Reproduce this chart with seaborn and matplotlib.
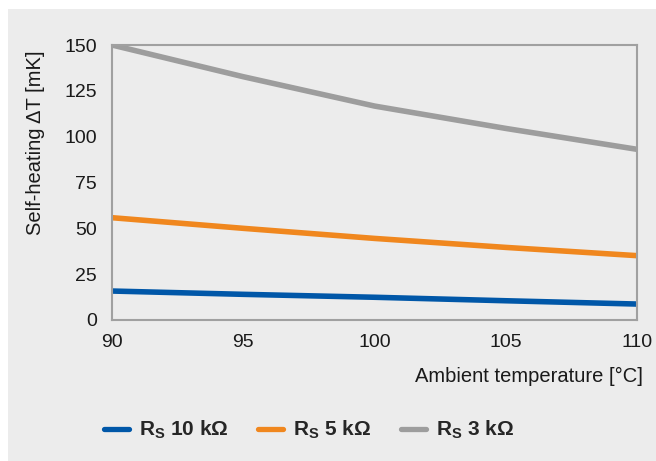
import matplotlib
matplotlib.use("Agg")
import matplotlib.pyplot as plt
import seaborn as sns
import pandas as pd
from matplotlib.patches import Rectangle
from matplotlib.lines import Line2D

temps = [90, 95, 100, 105, 110]
rs10k = [15.8, 14.0, 12.4, 10.5, 8.7]
rs5k = [55.8, 50.0, 44.5, 39.6, 35.1]
rs3k = [150.0, 132.7, 116.7, 104.5, 93.1]
series_labels = [r"$\mathbf{R_S}$ 10 kΩ", r"$\mathbf{R_S}$ 5 kΩ", r"$\mathbf{R_S}$ 3 kΩ"]
colors = ["#0057a8", "#f0871e", "#9d9d9d"]
yticks = [0, 25, 50, 75, 100, 125, 150]
xticks = [90, 95, 100, 105, 110]

sns.set_theme(style="white")
plt.rcParams['font.family'] = ['Liberation Sans', 'DejaVu Sans']
plt.rcParams['mathtext.fontset'] = 'custom'
plt.rcParams['mathtext.rm'] = 'Liberation Sans'
plt.rcParams['mathtext.bf'] = 'Liberation Sans:bold'
plt.rcParams['mathtext.it'] = 'Liberation Sans:italic'

bg = "#ececec"
axcol = "#a0a0a0"
txt = "#1a1a1a"

df = pd.DataFrame({
    "temp": temps * 3,
    "dT": rs10k + rs5k + rs3k,
    "series": [series_labels[0]] * 5 + [series_labels[1]] * 5 + [series_labels[2]] * 5,
})

fig = plt.figure(figsize=(6.56, 4.61), dpi=100, facecolor="white")
fig.patches.append(Rectangle((8 / 656, 0), 1, 1 - 9 / 461, transform=fig.transFigure,
                             facecolor=bg, edgecolor="none", zorder=-10))
ax = fig.add_axes([112 / 656, 1 - 320 / 461, (637 - 112) / 656, (320 - 45) / 461])
ax.set_facecolor(bg)

sns.lineplot(data=df, x="temp", y="dT", hue="series", palette=colors,
             linewidth=4, ax=ax, legend=False)

ax.set_xlim(90, 110)
ax.set_ylim(0, 150)
ax.set_xticks(xticks)
ax.set_yticks(yticks)
ax.tick_params(axis="both", colors=axcol, length=5, width=1.2, labelsize=14,
               labelcolor=txt, direction="out")
ax.tick_params(axis="x", pad=5)
ax.tick_params(axis="y", pad=6)
for s in ax.spines.values():
    s.set_color(axcol)
    s.set_linewidth(1.5)
    s.set_visible(True)

ax.set_ylabel("Self-heating ΔT [mK]", fontsize=14.5, color=txt)
ax.yaxis.set_label_coords(-(112 - 45) / 525, 0.645)
ax.set_xlabel("Ambient temperature [°C]", fontsize=14.5, color=txt)
ax.xaxis.set_label_coords((643 - 112) / 525, -(376 - 320) / 275)
ax.xaxis.label.set_horizontalalignment("right")
ax.xaxis.label.set_verticalalignment("center")

handles = [Line2D([0], [0], color=c, linewidth=3.8) for c in colors]
fig.legend(handles, series_labels, loc="center", bbox_to_anchor=(309 / 656, 1 - 430 / 461),
           ncol=3, frameon=False, handlelength=1.2, handletextpad=0.5, columnspacing=1.4,
           prop={"weight": "bold", "size": 15})

fig.savefig("out.png", dpi=100, facecolor=fig.get_facecolor())
